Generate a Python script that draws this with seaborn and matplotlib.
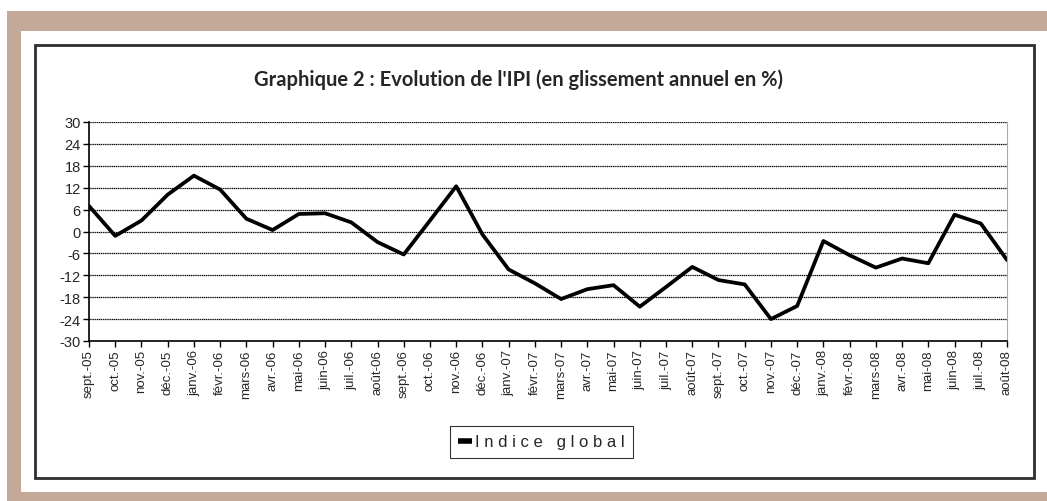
import numpy as np
import pandas as pd
import seaborn as sns
import matplotlib.pyplot as plt
from matplotlib.patches import Rectangle

# monthly labels as on the axis
months = ["sept.-05", "oct.-05", "nov.-05", "déc.-05", "janv.-06", "févr.-06",
          "mars-06", "avr.-06", "mai-06", "juin-06", "juil.-06", "août-06",
          "sept.-06", "oct.-06", "nov.-06", "déc.-06", "janv.-07", "févr.-07",
          "mars-07", "avr.-07", "mai-07", "juin-07", "juil.-07", "août-07",
          "sept.-07", "oct.-07", "nov.-07", "déc.-07", "janv.-08", "févr.-08",
          "mars-08", "avr.-08", "mai-08", "juin-08", "juil.-08", "août-08"]

# IPI, year-on-year change in %
ipi = [7.0, -1.2, 3.0, 10.1, 15.3, 11.5,
       3.5, 0.4, 4.8, 5.0, 2.5, -2.9,
       -6.3, 3.0, 12.4, -0.8, -10.4, -14.2,
       -18.5, -15.8, -14.7, -20.6, -15.2, -9.7,
       -13.3, -14.5, -24.0, -20.4, -2.6, -6.5,
       -9.9, -7.4, -8.7, 4.6, 2.2, -7.8]

y_ticks = list(range(-30, 31, 6))
legend_label = "I n d i c e   g l o b a l"
title = "Graphique 2 : Evolution de l'IPI (en glissement annuel en %)"

sns.set_style("white")
plt.rcParams['font.family'] = ['Liberation Sans', 'DejaVu Sans']

W, H = 1047, 502
fig = plt.figure(figsize=(W / 100, H / 100), dpi=100)

# tan decorative border, white page inside it
tan = "#c4a898"
fig.patches.append(Rectangle((7 / W, 0), 1 - 7 / W, 1 - 12 / H, transform=fig.transFigure,
                             facecolor=tan, edgecolor="none", zorder=0))
fig.patches.append(Rectangle((21 / W, 9 / H), 1 - 21 / W, (493 - 32) / H, transform=fig.transFigure,
                             facecolor="white", edgecolor="none", zorder=0.5))
# dark chart frame
fig.patches.append(Rectangle((35 / W, 1 - 479 / H), (1034 - 35) / W, (479 - 46) / H,
                             transform=fig.transFigure, facecolor="none",
                             edgecolor="#2e2e2e", linewidth=2, zorder=1))

ax = fig.add_axes([89 / W, 1 - 342 / H, (1007 - 89) / W, (342 - 123) / H])
ax.set_zorder(3)
ax.set_facecolor("none")

df = pd.DataFrame({"mois": months, "ipi": ipi})
sns.lineplot(data=df, x="mois", y="ipi", color="black", linewidth=2.7,
             sort=False, ax=ax, label=legend_label)

ax.set_xlim(0, len(months) - 1)
ax.set_ylim(-30, 30)
ax.set_yticks(y_ticks)
ax.set_yticklabels([str(v) for v in y_ticks], fontsize=10.5)
ax.set_xticks(range(len(months)))
ax.set_xticklabels(months, rotation=90, fontsize=9.5)
ax.tick_params(axis="both", direction="out", length=4, width=1, color="black",
               left=True, bottom=True, pad=2)
ax.set_xlabel("")
ax.set_ylabel("")

for v in y_ticks:
    ax.axhline(v, color="black", linewidth=0.9, linestyle=(0, (1, 0.5)), zorder=0)

for side in ["left", "bottom"]:
    ax.spines[side].set_color("black")
    ax.spines[side].set_linewidth(1.2)
ax.spines["top"].set_visible(False)
ax.spines["right"].set_color("#aaaaaa")
ax.spines["right"].set_linewidth(0.8)

leg = ax.legend(loc="center", bbox_to_anchor=(541.5 / W, 1 - 443 / H),
                bbox_transform=fig.transFigure, frameon=True, fancybox=False,
                edgecolor="black", fontsize=12, handlelength=0.8,
                handletextpad=0.2, borderpad=0.5, borderaxespad=0)
leg.get_frame().set_linewidth(0.8)
for line in leg.get_lines():
    line.set_linewidth(4)
    line.set_solid_capstyle("butt")

fig.text(518 / W, 1 - 80 / H, title, ha="center", va="center",
         fontsize=14.5, fontweight="bold", family=["Lato", "DejaVu Sans"], zorder=3)

fig.savefig("out.png", dpi=100)
